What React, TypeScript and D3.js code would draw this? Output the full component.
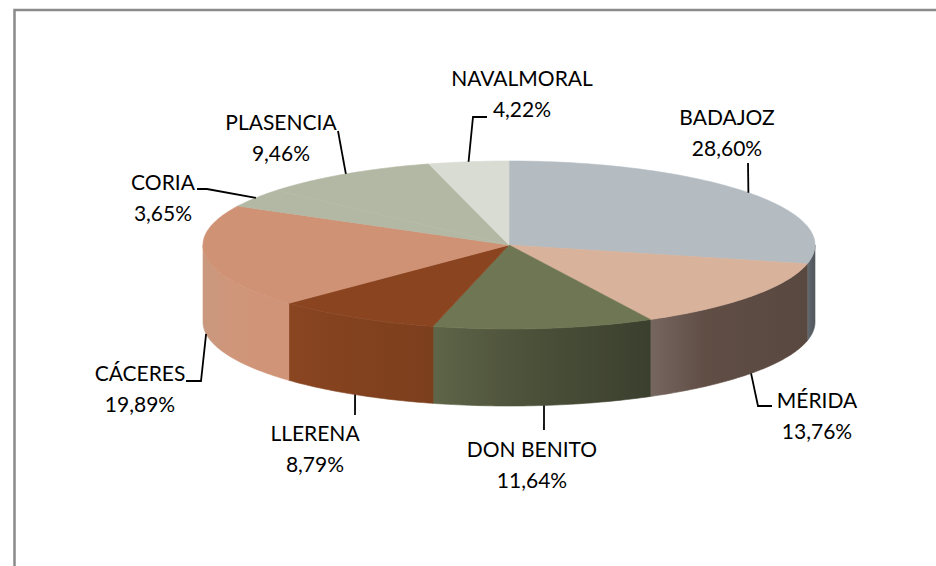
import React from "react";
import * as d3 from "d3";

const names = ["BADAJOZ", "MÉRIDA", "DON BENITO", "LLERENA", "CÁCERES", "CORIA", "PLASENCIA", "NAVALMORAL"];
const values = [28.6, 13.76, 11.64, 8.79, 19.89, 3.65, 9.46, 4.22];
const valueLabels = ["28,60%", "13,76%", "11,64%", "8,79%", "19,89%", "3,65%", "9,46%", "4,22%"];

// styles
const topColors = ["#b4bcc2", "#d8b29b", "#6e7653", "#8a4520", "#d09275", "#b3b8a5", "#b3b8a5", "#d8dcd3"];
const sideLeft = ["#666d73", "#766660", "#5f6548", "#8a4521", "#c9987e", "#b3b8a5", "#b3b8a5", "#d8dcd3"];
const sideMid = ["#5b6267", "#604e45", "#4f543c", "#84421f", "#d0967a", "#b3b8a5", "#b3b8a5", "#d8dcd3"];
const sideRight = ["#50565b", "#594840", "#3b3f2e", "#7c3f1d", "#d09478", "#b3b8a5", "#b3b8a5", "#d8dcd3"];

// label layout: text centre x, first baseline y, leader via points (after rim point)
const labelLayout: { x: number; y: number; via: [number, number][] }[] = [
  { x: 727, y: 125, via: [[748, 163]] },
  { x: 817, y: 408, via: [[758, 406], [772, 406]] },
  { x: 532, y: 457, via: [[544, 430]] },
  { x: 315, y: 441, via: [[355, 415]] },
  { x: 140, y: 381, via: [[201, 381], [186, 381]] },
  { x: 163, y: 190, via: [[207, 189], [197, 189]] },
  { x: 281, y: 130, via: [[338, 131]] },
  { x: 522, y: 86, via: [[473, 117], [487, 117]] },
];

const W = 936, H = 566;
const cx = 509, cy = 245, rx = 306, ry = 84, depth = 77;

function pt(a: number, yOff = 0): [number, number] {
  return [cx + rx * Math.sin(a), cy - ry * Math.cos(a) + yOff];
}

function arcPoints(a0: number, a1: number, yOff = 0): [number, number][] {
  const n = Math.max(2, Math.ceil(((a1 - a0) * 180) / Math.PI));
  const pts: [number, number][] = [];
  for (let i = 0; i <= n; i++) pts.push(pt(a0 + ((a1 - a0) * i) / n, yOff));
  return pts;
}

export default function App() {
  const pie = d3.pie<number>().sort(null).value((d) => d);
  const arcs = pie(values);
  const line = d3.line();

  const sides: JSX.Element[] = [];
  const defs: JSX.Element[] = [];
  arcs.forEach((a, i) => {
    const s = Math.max(a.startAngle, Math.PI / 2);
    const e = Math.min(a.endAngle, (3 * Math.PI) / 2);
    if (e <= s) return;
    const top = arcPoints(s, e, 0);
    const bot = arcPoints(s, e, depth).reverse();
    const xs = [...top, ...bot].map((p) => p[0]);
    const x0 = Math.min(...xs), x1 = Math.max(...xs);
    defs.push(
      <linearGradient key={"g" + i} id={"side" + i} gradientUnits="userSpaceOnUse" x1={x0} x2={x1} y1={0} y2={0}>
        <stop offset="0" stopColor={sideLeft[i]} />
        <stop offset="0.35" stopColor={sideMid[i]} />
        <stop offset="1" stopColor={sideRight[i]} />
      </linearGradient>
    );
    sides.push(
      <path key={"s" + i} d={line([...top, ...bot])! + "Z"} fill={`url(#side${i})`} stroke={`url(#side${i})`} strokeWidth={0.6} />
    );
  });

  const tops = arcs.map((a, i) => {
    const pts: [number, number][] = [[cx, cy], ...arcPoints(a.startAngle, a.endAngle, 0)];
    return <path key={"t" + i} d={line(pts)! + "Z"} fill={topColors[i]} stroke={topColors[i]} strokeWidth={0.6} />;
  });

  const labels = arcs.map((a, i) => {
    const mid = (a.startAngle + a.endAngle) / 2;
    const front = Math.cos(mid) < 0;
    const rim = pt(mid, front ? depth : 0);
    const L = labelLayout[i];
    const path = line([rim, ...L.via])!;
    return (
      <g key={"l" + i}>
        <path d={path} fill="none" stroke="#000" strokeWidth={1.8} />
        <text x={L.x} y={L.y} textAnchor="middle">{names[i]}</text>
        <text x={L.x} y={L.y + 31} textAnchor="middle">{valueLabels[i]}</text>
      </g>
    );
  });

  return (
    <svg width={W} height={H} style={{ position: "absolute", left: 0, top: 0, display: "block" }}
      fontFamily="Lato, 'Open Sans', sans-serif" fontSize={21} fill="#000">
      <defs>{defs}</defs>
      <rect x={0} y={0} width={W} height={H} fill="#fff" />
      <path d={`M14.5,${H} V10 H${W}`} fill="none" stroke="#8a8a8a" strokeWidth={2.5} />
      {sides}
      {tops}
      {labels}
    </svg>
  );
}
